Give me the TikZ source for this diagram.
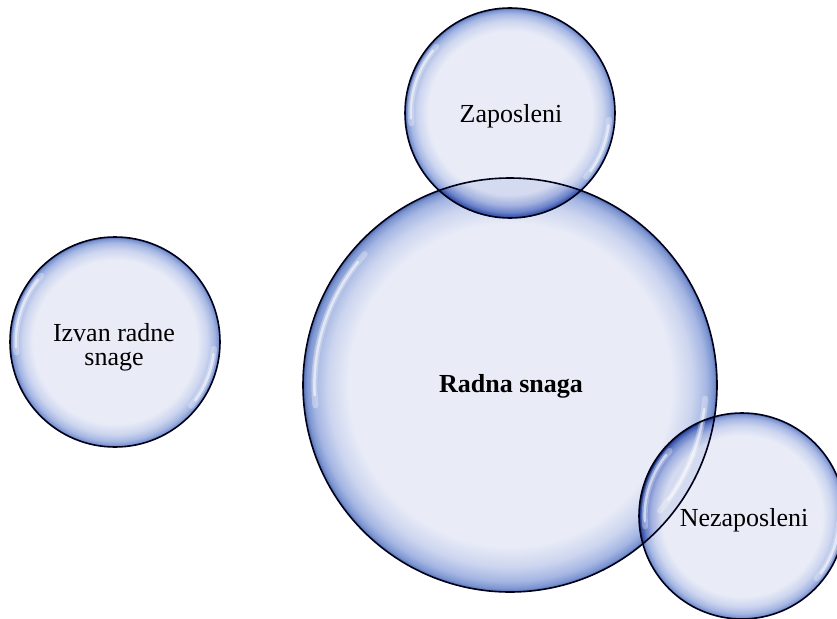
\documentclass[tikz,border=0pt]{standalone}
\usepackage{fontspec}
\setmainfont{Liberation Serif}
\usetikzlibrary{calc}
\definecolor{bubin}{HTML}{E9ECF7}
\definecolor{bubA}{HTML}{CCD5EF}
\definecolor{bubB}{HTML}{A5B6E3}
\definecolor{bubC}{HTML}{7C95D0}
\definecolor{bubD}{HTML}{4F6AB0}
\pgfdeclareradialshading{bubble}{\pgfpoint{0bp}{0bp}}{color(0bp)=(bubin); color(19.5bp)=(bubin); color(22bp)=(bubA); color(23.7bp)=(bubB); color(24.6bp)=(bubC); color(25bp)=(bubD); color(50bp)=(bubD)}
\tikzset{
  bub/.style={circle, inner sep=0pt, outer sep=0pt, shading=bubble, minimum size=#1},
  rimline/.style={draw=black!90!blue, line width=1.6pt},
  lensfill/.style={shading=bubble},
  hl/.style={draw=white, line width=2.5pt, line cap=round, opacity=0.55},
  hlsoft/.style={draw=white, line width=6pt, line cap=round, opacity=0.3},
  lbl/.style={inner sep=0pt, font=\fontsize{26}{23.5}\selectfont}
}
\begin{document}
\begin{tikzpicture}[x=1pt,y=-1pt]
\useasboundingbox (0,0) rectangle (837,618);
% discs
\node[bub=414pt] (R) at (510,385) {};
\node[bub=210pt] (Z) at (510,113) {};
\node[bub=206pt] (N) at (742,516) {};
\node[bub=210pt] (I) at (115,342) {};
% lenses
\begin{scope}[blend mode=multiply]
  \clip (R.center) circle[radius=207pt];
  \path[lensfill] (Z.center) circle[radius=105pt];
  \path[lensfill] (N.center) circle[radius=103pt];
\end{scope}
% highlights
\foreach \c/\r in {R/207, Z/105, N/103, I/105}{
  \draw[hlsoft] ($(\c.center)+(138:{0.945*\r pt})$) arc[start angle=138, end angle=186, radius={0.945*\r pt}];
  \draw[hl] ($(\c.center)+(141:{0.945*\r pt})$) arc[start angle=141, end angle=183, radius={0.945*\r pt}];
  \draw[hlsoft] ($(\c.center)+(-4:{0.945*\r pt})$) arc[start angle=-4, end angle=-40, radius={0.945*\r pt}];
  \draw[hl] ($(\c.center)+(-7:{0.945*\r pt})$) arc[start angle=-7, end angle=-36, radius={0.945*\r pt}];
}
% outlines
\draw[rimline] (R.center) circle[radius=207pt];
\draw[rimline] (Z.center) circle[radius=105pt];
\draw[rimline] (N.center) circle[radius=103pt];
\draw[rimline] (I.center) circle[radius=105pt];
% labels
\node[lbl, anchor=base] (tZ) at (511,122) {Zaposleni};
\node[lbl, anchor=base, font=\fontsize{26}{23.5}\selectfont\bfseries] (tR) at (511,392) {Radna snaga};
\node[lbl, anchor=base] (tN) at (744,526) {Nezaposleni};
\node[lbl, anchor=base, align=center] (tI) at (114,365) {Izvan radne\\snage};
\end{tikzpicture}
\end{document}
